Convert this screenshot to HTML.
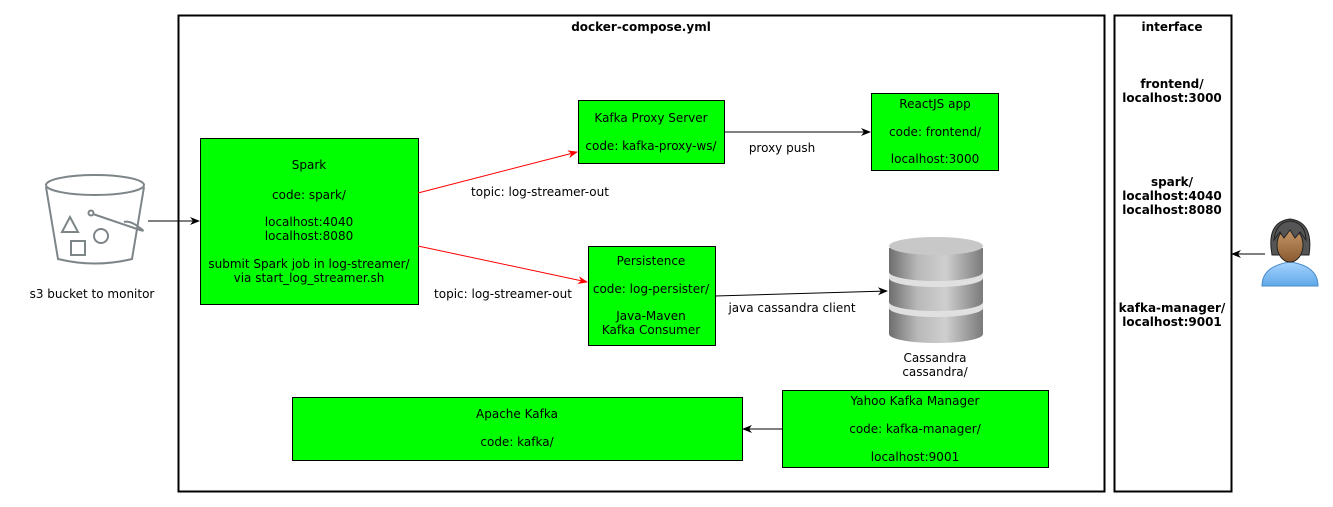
<!DOCTYPE html>
<html><head><meta charset="utf-8"><style>
html,body{margin:0;padding:0;background:#fff;}
svg{display:block;font-family:"DejaVu Sans","Liberation Sans",sans-serif;font-size:12px;}
</style></head><body>
<svg width="1333" height="507" viewBox="0 0 1333 507" xmlns="http://www.w3.org/2000/svg">
<defs>
<marker id="ab" markerWidth="10" markerHeight="10" refX="9" refY="5" orient="auto" markerUnits="userSpaceOnUse"><path d="M0,1 L10,5 L0,9 L3,5 Z" fill="#000"/></marker>
<marker id="ar" markerWidth="10" markerHeight="10" refX="9" refY="5" orient="auto" markerUnits="userSpaceOnUse"><path d="M0,1 L10,5 L0,9 L3,5 Z" fill="#f00"/></marker>
<linearGradient id="cg" x1="0" x2="1" y1="0" y2="0"><stop offset="0" stop-color="#6e6e6e"/><stop offset="0.3" stop-color="#b8b8b8"/><stop offset="0.6" stop-color="#cfcfcf"/><stop offset="1" stop-color="#7a7a7a"/></linearGradient>
<linearGradient id="sg" x1="0" x2="0" y1="0" y2="1"><stop offset="0" stop-color="#a8d4ff"/><stop offset="1" stop-color="#5fa8e8"/></linearGradient>
<linearGradient id="fg" x1="0" x2="0" y1="0" y2="1"><stop offset="0" stop-color="#c89a6a"/><stop offset="1" stop-color="#8a5a30"/></linearGradient>
</defs>
<rect x="178.5" y="15.5" width="926" height="476" fill="#fff" stroke="#000" stroke-width="2"/>
<text x="641" y="31" text-anchor="middle" font-weight="bold">docker-compose.yml</text>
<rect x="1114.5" y="15.5" width="117" height="476" fill="#fff" stroke="#000" stroke-width="2"/>
<g text-anchor="middle" font-weight="bold">
<text x="1172" y="31">interface</text>
<text x="1172" y="88">frontend/</text><text x="1172" y="102">localhost:3000</text>
<text x="1172" y="186">spark/</text><text x="1172" y="200">localhost:4040</text><text x="1172" y="214">localhost:8080</text>
<text x="1172" y="312">kafka-manager/</text><text x="1172" y="326">localhost:9001</text>
</g>
<g fill="#00ff00" stroke="#000">
<rect x="200.5" y="138.5" width="218" height="166"/>
<rect x="578.5" y="100.5" width="146" height="63"/>
<rect x="871.5" y="93.5" width="127" height="77"/>
<rect x="588.5" y="246.5" width="127" height="99"/>
<rect x="292.5" y="397.5" width="450" height="63"/>
<rect x="782.5" y="390.5" width="266" height="77"/>
</g>
<g text-anchor="middle">
<text x="309" y="169">Spark</text>
<text x="309" y="199">code: spark/</text>
<text x="309" y="226">localhost:4040</text>
<text x="309" y="240">localhost:8080</text>
<text x="309" y="268">submit Spark job in log-streamer/</text>
<text x="309" y="282">via start_log_streamer.sh</text>
<text x="651" y="122">Kafka Proxy Server</text>
<text x="651" y="150">code: kafka-proxy-ws/</text>
<text x="935" y="108">ReactJS app</text>
<text x="935" y="136">code: frontend/</text>
<text x="935" y="163">localhost:3000</text>
<text x="651" y="265">Persistence</text>
<text x="651" y="293">code: log-persister/</text>
<text x="651" y="320">Java-Maven</text>
<text x="651" y="334">Kafka Consumer</text>
<text x="517" y="418">Apache Kafka</text>
<text x="517" y="446">code: kafka/</text>
<text x="915" y="405">Yahoo Kafka Manager</text>
<text x="915" y="433">code: kafka-manager/</text>
<text x="915" y="461">localhost:9001</text>
<text x="935" y="362">Cassandra</text>
<text x="935" y="376">cassandra/</text>
<text x="92" y="298">s3 bucket to monitor</text>
<text x="782" y="152">proxy push</text>
<text x="540" y="196">topic: log-streamer-out</text>
<text x="503" y="298">topic: log-streamer-out</text>
<text x="792" y="312">java cassandra client</text>
</g>
<g stroke="#000" fill="none">
<line x1="148" y1="221" x2="199" y2="221" marker-end="url(#ab)"/>
<line x1="724" y1="132" x2="870" y2="132" marker-end="url(#ab)"/>
<line x1="715" y1="296" x2="887" y2="291" marker-end="url(#ab)"/>
<line x1="782" y1="429" x2="743" y2="429" marker-end="url(#ab)"/>
<line x1="1265" y1="254" x2="1232" y2="254" marker-end="url(#ab)"/>
<line x1="418" y1="193" x2="577" y2="152" stroke="#f00" marker-end="url(#ar)"/>
<line x1="418" y1="246" x2="587" y2="282" stroke="#f00" marker-end="url(#ar)"/>
</g>
<!-- bucket -->
<g stroke="#7d8588" stroke-width="2" fill="none">
<ellipse cx="95" cy="185" rx="49" ry="10"/>
<path d="M46,187 L58,259 Q95,268 132,259 L144,187"/>
<circle cx="91" cy="213" r="2.5"/>
<path d="M93,214 L140,230 Q146,232 140,228 Q130,220 124,222"/>
<path d="M70,217 L62,232 L78,232 Z"/>
<circle cx="101" cy="236" r="7"/>
<rect x="71" y="241" width="14" height="14"/>
</g>
<!-- cassandra -->
<g>
<path d="M889,248 L889,334 A47,9 0 0 0 983,334 L983,248 Z" fill="url(#cg)"/>
<ellipse cx="936" cy="246" rx="47" ry="9" fill="#c8c8c8"/>
<path d="M889,272 A47,9 0 0 0 983,272 L983,278 A47,9 0 0 1 889,278 Z" fill="#e0e0e0"/>
<path d="M889,302 A47,9 0 0 0 983,302 L983,308 A47,9 0 0 1 889,308 Z" fill="#e0e0e0"/>
</g>
<!-- person -->
<g stroke="#222" stroke-width="1">
<path d="M1262,286 Q1262,266 1290,262 Q1318,266 1318,286 Z" fill="url(#sg)" stroke="#4a8ac8"/>
<path d="M1272,255 Q1266,222 1290,219 Q1314,222 1309,255 Z" fill="#555"/>
<ellipse cx="1290" cy="245" rx="13" ry="17" fill="url(#fg)"/>
<path d="M1274,240 Q1276,222 1290,221 Q1305,222 1306,240 L1300,232 L1295,238 L1290,230 L1284,238 L1280,232 Z" fill="#555"/>
</g>
</svg>
</body></html>
